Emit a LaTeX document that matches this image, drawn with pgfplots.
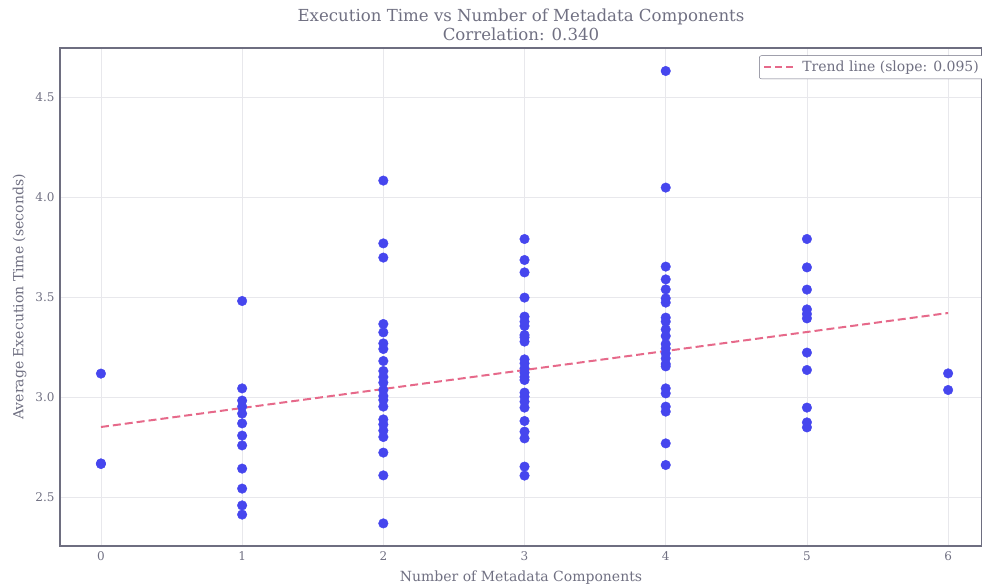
\documentclass[border=0pt]{standalone}
\usepackage{pgfplots}
\pgfplotsset{compat=1.18}
\usepackage{fontspec}
\setmainfont{DejaVu Serif}
\definecolor{txtgray}{RGB}{112,112,130}
\definecolor{axgray}{RGB}{110,110,128}
\definecolor{gridgray}{RGB}{232,232,236}
\definecolor{ptblue}{RGB}{70,70,238}
\definecolor{trendpink}{RGB}{230,105,138}
\begin{document}
\begin{tikzpicture}
\path[use as bounding box] (0,0) rectangle (982pt,586pt);
\begin{axis}[
  at={(60pt,40pt)}, anchor=south west,
  scale only axis, width=922pt, height=498pt,
  xmin=-0.29, xmax=6.24, ymin=2.255, ymax=4.745,
  xtick={0,1,2,3,4,5,6},
  ytick={2.5,3.0,3.5,4.0,4.5},
  yticklabel style={/pgf/number format/fixed, /pgf/number format/fixed zerofill, /pgf/number format/precision=1, xshift=-2pt},
  /pgf/number format/assume math mode=true,
  major tick length=0pt,
  grid=major,
  major grid style={gridgray, line width=0.8pt},
  axis line style={axgray, line width=1.2pt},
  ticklabel style={font=\fontsize{12}{14}\selectfont, text=txtgray},
  xticklabel style={yshift=-2pt},
  title={Execution Time vs Number of Metadata Components\\Correlation: 0.340},
  title style={align=center, font=\fontsize{16.6}{18.5}\selectfont, text=txtgray, at={(0.5,1)}, anchor=south, yshift=-2pt},
  xlabel={Number of Metadata Components},
  ylabel={Average Execution Time (seconds)},
  label style={font=\fontsize{14}{16}\selectfont, text=txtgray},
  xlabel style={yshift=-3pt},
  ylabel style={yshift=2pt},
  legend style={at={(1,1)}, anchor=north east, xshift=3pt, yshift=-7.5pt,
    draw=axgray, rounded corners=2pt, fill=white, font=\fontsize{14}{16}\selectfont, text=txtgray,
    inner xsep=4pt, inner ysep=3.5pt},
  legend image code/.code={\draw[#1, dash pattern=on 7pt off 4pt] (0pt,0pt) -- (30pt,0pt); \path (35pt,0pt);},
  legend cell align=left,
]
\addplot[only marks, mark=*, mark size=4.8pt, ptblue, mark options={draw=ptblue, fill=ptblue}, forget plot] table {
x y
0 3.117
0 2.665
0 2.668
1 3.480
1 3.043
1 2.982
1 2.952
1 2.917
1 2.868
1 2.807
1 2.758
1 2.642
1 2.542
1 2.458
1 2.412
2 4.082
2 3.768
2 3.697
2 3.365
2 3.323
2 3.268
2 3.240
2 3.180
2 3.130
2 3.100
2 3.072
2 3.035
2 3.005
2 2.985
2 2.952
2 2.888
2 2.863
2 2.832
2 2.800
2 2.722
2 2.608
2 2.368
3 3.790
3 3.685
3 3.623
3 3.497
3 3.402
3 3.377
3 3.355
3 3.310
3 3.298
3 3.277
3 3.188
3 3.168
3 3.143
3 3.122
3 3.100
3 3.085
3 3.022
3 3.002
3 2.977
3 2.947
3 2.880
3 2.827
3 2.793
3 2.652
3 2.607
4 4.630
4 4.047
4 3.652
4 3.588
4 3.538
4 3.493
4 3.472
4 3.397
4 3.377
4 3.338
4 3.305
4 3.265
4 3.243
4 3.218
4 3.193
4 3.165
4 3.153
4 3.043
4 3.018
4 2.952
4 2.927
4 2.768
4 2.660
5 3.790
5 3.648
5 3.537
5 3.438
5 3.415
5 3.393
5 3.222
5 3.135
5 2.947
5 2.873
5 2.848
6 3.118
6 3.035
};
\addplot[trendpink, line width=2pt, dash pattern=on 8pt off 4pt] coordinates {(0,2.850) (6,3.420)};
\addlegendentry{Trend line (slope: 0.095)}
\end{axis}
\end{tikzpicture}
\end{document}
